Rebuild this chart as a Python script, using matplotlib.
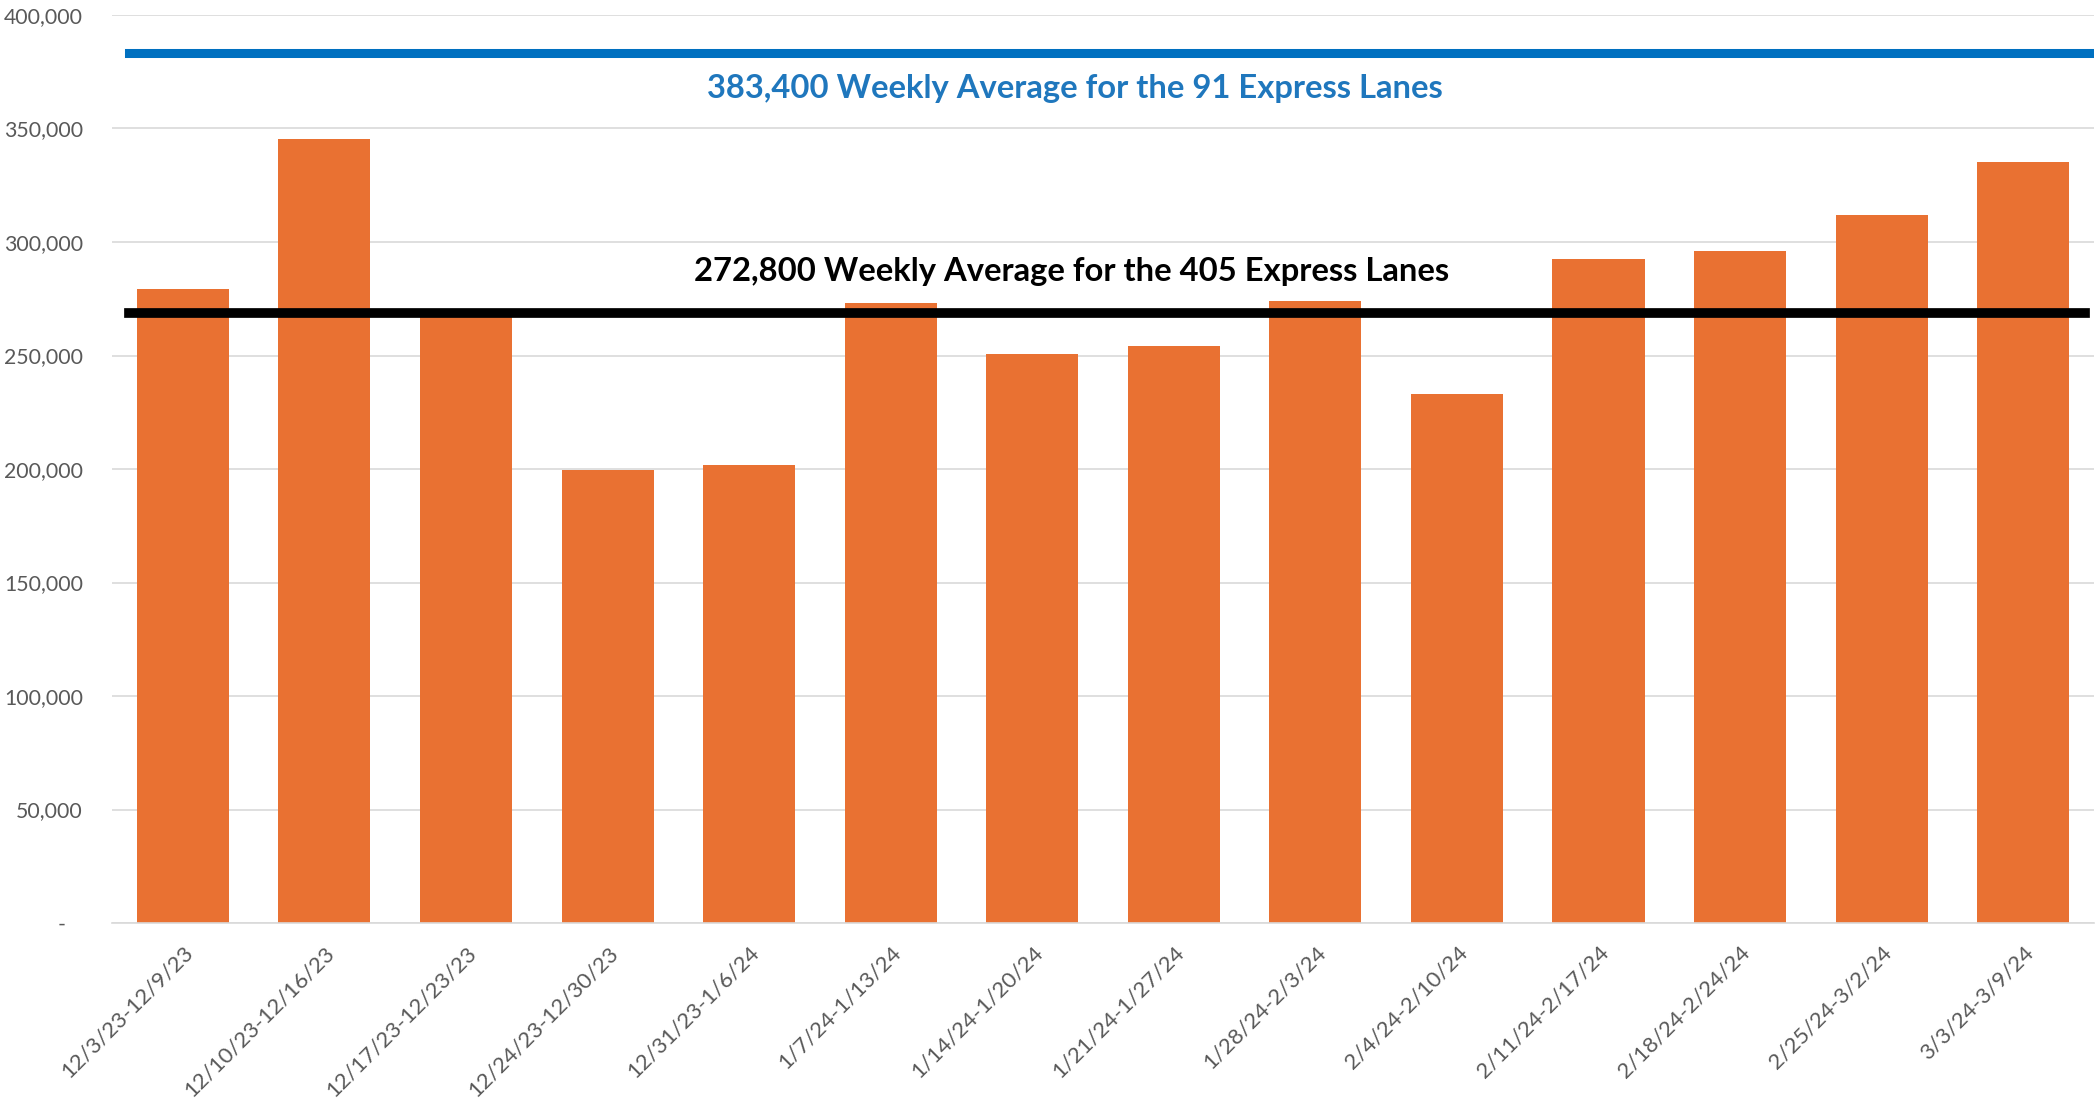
import matplotlib
matplotlib.use('Agg')
import matplotlib.pyplot as plt
import matplotlib.ticker as mticker
import numpy as np

# weekly trips, 405 Express Lanes
weeks = ['12/3/23-12/9/23', '12/10/23-12/16/23', '12/17/23-12/23/23', '12/24/23-12/30/23',
         '12/31/23-1/6/24', '1/7/24-1/13/24', '1/14/24-1/20/24', '1/21/24-1/27/24',
         '1/28/24-2/3/24', '2/4/24-2/10/24', '2/11/24-2/17/24', '2/18/24-2/24/24',
         '2/25/24-3/2/24', '3/3/24-3/9/24']
trips = [279100, 345200, 270000, 199600, 201800, 273300, 250700, 254200,
         274000, 232900, 292400, 295900, 311900, 335200]

# reference lines (positions as drawn in the chart)
avg_91 = 383400
avg_405_drawn = 268600
label_91 = '383,400 Weekly Average for the 91 Express Lanes'
label_405 = '272,800 Weekly Average for the 405 Express Lanes'

yticks = [0, 50000, 100000, 150000, 200000, 250000, 300000, 350000, 400000]

plt.rcParams['font.family'] = ['Lato', 'DejaVu Sans']

fig = plt.figure(figsize=(20.99, 11.02), dpi=100)
ax = fig.add_axes([0.0534, 0.1624, 0.9442, 0.8240])

x = np.arange(len(weeks))
ax.bar(x, trips, width=0.65, color='#E97132', zorder=2)

ax.axhline(avg_91, xmin=0.0086, xmax=0.9985, color='#0070C0', lw=6.5, zorder=3)
ax.axhline(avg_405_drawn, xmin=0.0086, xmax=0.9955, color='black', lw=7, zorder=3)

# annotations
ax.text(6.3, 367800, label_91, color='#1F77BD', fontsize=23.6, fontweight='bold',
        ha='center', va='center', zorder=4)
ax.text(6.28, 287000, label_405, color='black', fontsize=23.6, fontweight='bold',
        ha='center', va='center', zorder=4)

ax.set_xlim(-0.5, len(weeks) - 0.5)
ax.set_ylim(0, 400000)
ax.set_yticks(yticks)
ax.yaxis.set_major_formatter(mticker.FuncFormatter(lambda v, p: '-   ' if v == 0 else f'{v:,.0f}'))
ax.grid(axis='y', color='#D9D9D9', lw=1.2, zorder=0)
ax.set_axisbelow(True)

for s in ['top', 'right', 'left']:
    ax.spines[s].set_visible(False)
ax.spines['bottom'].set_color('#D9D9D9')
ax.spines['bottom'].set_linewidth(1.2)

ax.tick_params(axis='y', length=0, pad=21, labelsize=15.3, labelcolor='#595959')
ax.tick_params(axis='x', length=0, pad=14, labelsize=16, labelcolor='#595959')
ax.set_xticks(x)
ax.set_xticklabels(weeks, rotation=45, ha='right', rotation_mode='anchor')

fig.savefig('out.png', dpi=100, facecolor='white')
